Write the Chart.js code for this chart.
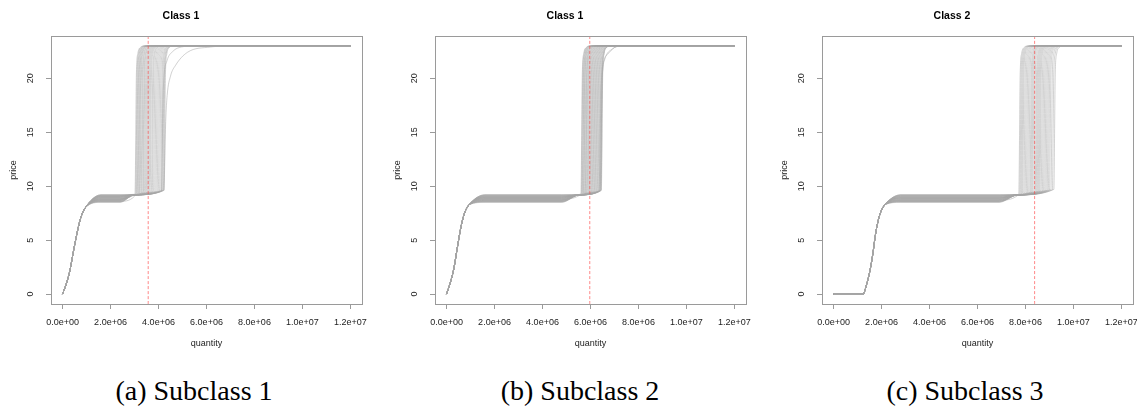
<!DOCTYPE html>
<html>
<head>
<meta charset="utf-8">
<script src="https://cdn.jsdelivr.net/npm/chart.js@4.4.0/dist/chart.umd.min.js"></script>
<style>
  body { margin: 0; background: #fff; width: 1137px; height: 409px; overflow: hidden; position: relative; }
  canvas { position: absolute; top: 0; }
  .caption { position: absolute; top: 377px; width: 300px; text-align: center;
             font-family: 'Liberation Serif', 'Times New Roman', serif; font-size: 28px; line-height: 28px; color: #000; }
</style>
</head>
<body>
<canvas id="c1" width="386" height="360" style="left:0px"></canvas>
<canvas id="c2" width="386" height="360" style="left:384px"></canvas>
<canvas id="c3" width="386" height="360" style="left:771px"></canvas>
<div class="caption" style="left:44px">(a) Subclass 1</div>
<div class="caption" style="left:430px">(b) Subclass 2</div>
<div class="caption" style="left:815px">(c) Subclass 3</div>

<script>
// axes, as printed
const xTicks = [0, 2e6, 4e6, 6e6, 8e6, 10e6, 12e6];
const xTickLabels = ['0.0e+00', '2.0e+06', '4.0e+06', '6.0e+06', '8.0e+06', '1.0e+07', '1.2e+07'];
const yTicks = [0, 5, 10, 15, 20];
const xMin = -0.48e6, xMax = 12.48e6, yMin = -0.92, yMax = 23.92;
const qEnd = 12e6, pTop = 23;

const titles = ['Class 1', 'Class 1', 'Class 2'];
const redQ = [3.57e6, 5.97e6, 8.38e6];   // red dashed line

// plateau / foot of the jump zone, per panel
const plateauStart = [1.6e6, 1.6e6, 2.8e6];
const plateauEnd = [2.4e6, 4.8e6, 6.9e6];
const footQ = [3.0e6, 5.55e6, 7.7e6];
const footP = [9.2, 9.2, 9.2];

// shape of the jump up to 23 (offset after the jump quantity)
const jumpDq = [0.06e6, 0.12e6, 0.22e6, 0.4e6];
const jumpP = [20.5, 22.3, 22.85, 23];

// panel (a)
const rise1Q = [0, 0.15e6, 0.3e6, 0.45e6, 0.6e6, 0.75e6, 0.95e6];
const rise1P = [0, 0.9, 2.1, 3.9, 5.6, 7.0, 8.0];
const jump1 = [3.02e6, 3.05e6, 3.08e6, 3.11e6, 3.14e6, 3.17e6, 3.2e6, 3.23e6, 3.27e6, 3.3e6, 3.34e6,
  3.37e6, 3.41e6, 3.45e6, 3.49e6, 3.53e6, 3.57e6, 3.61e6, 3.65e6, 3.7e6, 3.74e6, 3.79e6, 3.84e6,
  3.89e6, 3.94e6, 3.99e6, 4.04e6, 4.09e6, 4.13e6, 4.17e6, 4.2e6, 4.23e6];
const level1 = [9.2, 8.9, 8.6, 9.1, 8.8, 8.55, 9.0, 8.7, 9.15, 8.85, 8.6, 9.05, 8.75, 9.2, 8.65, 8.95,
  8.5, 9.1, 8.8, 9.0, 8.7, 8.9, 9.15, 8.6, 8.85, 9.05, 8.75, 8.95, 8.55, 9.1, 8.8, 8.65];
const base1 = [9.25, 9.3, 9.28, 9.32, 9.3, 9.35, 9.33, 9.36, 9.34, 9.38, 9.36, 9.4, 9.38, 9.42, 9.4, 9.44,
  9.42, 9.46, 9.44, 9.48, 9.46, 9.5, 9.48, 9.52, 9.5, 9.55, 9.53, 9.58, 9.56, 9.6, 9.65, 9.62];
const slow1Jump = [4.22e6, 4.12e6];
const slow1Level = [8.7, 9.0];
const slow1Base = [9.6, 9.55];
const slow1TailQ = [[4.3e6, 4.36e6, 4.5e6, 4.71e6, 5.2e6, 6.17e6, 7.0e6], [4.2e6, 4.35e6, 4.6e6, 4.95e6, 5.5e6]];
const slow1TailP = [[16, 18.4, 20.2, 21.2, 22.4, 22.9, 23], [19, 21.6, 22.5, 22.9, 23]];

// panel (b)
const rise2Q = [0, 0.15e6, 0.3e6, 0.45e6, 0.6e6, 0.75e6, 0.95e6];
const rise2P = [0, 1.0, 2.3, 4.3, 6.2, 7.5, 8.3];
const jump2 = [5.6e6, 5.62e6, 5.65e6, 5.67e6, 5.7e6, 5.72e6, 5.75e6, 5.78e6, 5.8e6, 5.83e6, 5.86e6,
  5.89e6, 5.92e6, 5.95e6, 5.98e6, 6.01e6, 6.04e6, 6.07e6, 6.1e6, 6.13e6, 6.16e6, 6.19e6, 6.22e6,
  6.25e6, 6.28e6, 6.31e6, 6.34e6, 6.37e6, 6.4e6, 6.42e6, 6.44e6, 6.45e6];
const level2 = [8.8, 9.1, 8.6, 9.0, 8.7, 9.2, 8.55, 8.9, 9.05, 8.65, 8.95, 8.75, 9.15, 8.6, 8.85, 9.1,
  8.5, 9.0, 8.8, 8.7, 9.2, 8.9, 8.6, 9.05, 8.75, 8.95, 8.65, 9.15, 8.85, 8.55, 9.0, 8.8];
const base2 = [9.25, 9.28, 9.3, 9.3, 9.33, 9.32, 9.35, 9.36, 9.35, 9.38, 9.4, 9.38, 9.42, 9.41, 9.44, 9.43,
  9.46, 9.45, 9.48, 9.47, 9.5, 9.49, 9.52, 9.51, 9.54, 9.53, 9.56, 9.55, 9.58, 9.57, 9.6, 9.62];
const slow2Jump = [6.35e6, 6.4e6];
const slow2Level = [8.9, 8.7];
const slow2Base = [9.55, 9.6];
const slow2TailQ = [[6.45e6, 6.6e6, 6.9e6, 7.3e6], [6.5e6, 6.7e6, 7.0e6, 7.3e6]];
const slow2TailP = [[19.5, 21.8, 22.7, 23], [20.5, 22.2, 22.85, 23]];

// panel (c)
const rise3Q = [0, 1.23e6, 1.38e6, 1.53e6, 1.65e6, 1.74e6, 1.85e6, 1.95e6, 2.15e6];
const rise3P = [0, 0, 0.9, 2.3, 3.9, 5.4, 6.7, 7.5, 8.3];
const jump3 = [7.72e6, 7.76e6, 7.8e6, 7.84e6, 7.88e6, 7.93e6, 7.98e6, 8.03e6, 8.08e6, 8.13e6, 8.18e6,
  8.22e6, 8.26e6, 8.3e6, 8.35e6, 8.4e6, 8.44e6, 8.48e6, 8.52e6, 8.56e6, 8.6e6, 8.65e6, 8.7e6,
  8.75e6, 8.8e6, 8.85e6, 8.9e6, 8.95e6, 9.0e6, 9.06e6, 9.12e6, 9.18e6];
const level3 = [9.0, 8.7, 9.15, 8.6, 8.9, 8.55, 9.2, 8.8, 8.65, 9.05, 8.75, 8.95, 8.5, 9.1, 8.85, 8.6,
  9.0, 8.7, 9.2, 8.8, 8.9, 8.55, 9.1, 8.65, 8.95, 8.75, 9.05, 8.6, 8.85, 9.15, 8.7, 8.9];
const base3 = [9.25, 9.3, 9.28, 9.33, 9.35, 9.32, 9.38, 9.36, 9.4, 9.42, 9.4, 9.45, 9.43, 9.48, 9.46, 9.5,
  9.48, 9.52, 9.5, 9.55, 9.53, 9.58, 9.56, 9.6, 9.58, 9.62, 9.6, 9.65, 9.63, 9.68, 9.66, 9.7];

const lineGrey = 'rgba(165,165,165,0.5)';
const axisGrey = '#9a9a9a';
const textCol = '#222';
const small = { family: "'Liberation Sans', Arial, sans-serif", size: 9 };

function curvePoints(k, riseQ, riseP, level, jump, base, tailQ, tailP) {
  const pts = riseQ.map((q, i) => ({ x: q, y: riseP[i] }));
  pts.push({ x: plateauStart[k], y: level }, { x: plateauEnd[k], y: level });
  if (jump > footQ[k] + 0.08e6) pts.push({ x: footQ[k], y: footP[k] });
  pts.push({ x: jump, y: base });
  tailQ.forEach((q, i) => pts.push({ x: q, y: tailP[i] }));
  if (tailQ[tailQ.length - 1] < qEnd) pts.push({ x: qEnd, y: pTop });
  return pts;
}

function panelDatasets(k, riseQ, riseP, jumps, levels, bases, sJump, sLevel, sBase, sTailQ, sTailP) {
  const ds = [{
    data: [{ x: redQ[k], y: yMin }, { x: redQ[k], y: yMax }],
    borderColor: 'rgba(255,70,70,0.65)', borderWidth: 1, borderDash: [3, 2]
  }];
  jumps.forEach((j, i) => {
    ds.push({
      data: curvePoints(k, riseQ, riseP, levels[i], j, bases[i], jumpDq.map(d => j + d), jumpP),
      borderColor: lineGrey
    });
  });
  sJump.forEach((j, i) => {
    ds.push({
      data: curvePoints(k, riseQ, riseP, sLevel[i], j, sBase[i], sTailQ[i], sTailP[i]),
      borderColor: lineGrey
    });
  });
  return ds;
}

const boxPlugin = {
  id: 'box',
  afterDatasetsDraw(chart) {
    const a = chart.chartArea, ctx = chart.ctx;
    ctx.save();
    ctx.strokeStyle = axisGrey;
    ctx.lineWidth = 1;
    const l = Math.round(a.left) + 0.5, t = Math.round(a.top) + 0.5;
    ctx.strokeRect(l, t, Math.round(a.right) - Math.round(a.left), Math.round(a.bottom) - Math.round(a.top));
    ctx.restore();
  }
};

function makeChart(id, k, datasets) {
  new Chart(document.getElementById(id), {
    type: 'line',
    data: { datasets },
    options: {
      responsive: false,
      animation: false,
      devicePixelRatio: 1,
      layout: { padding: { left: 0, right: 24, top: 0, bottom: 0 } },
      elements: {
        point: { radius: 0 },
        line: { cubicInterpolationMode: 'monotone', borderWidth: 1 }
      },
      plugins: {
        colors: { enabled: false },
        legend: { display: false },
        tooltip: { enabled: false },
        title: {
          display: true, text: titles[k], color: '#000',
          font: { family: "'Liberation Sans', Arial, sans-serif", size: 10.5, weight: 'bold' },
          padding: { top: 9.5, bottom: 13.9 }
        }
      },
      scales: {
        x: {
          type: 'linear', min: xMin, max: xMax,
          afterBuildTicks: s => { s.ticks = xTicks.map(v => ({ value: v })); },
          afterFit: s => { s.height = 56; },
          grid: { drawOnChartArea: false, drawTicks: true, tickLength: 5, tickColor: axisGrey },
          border: { display: false },
          ticks: { callback: (v, i) => xTickLabels[i], font: small, color: textCol, padding: 8,
                   maxRotation: 0, autoSkip: false },
          title: { display: true, text: 'quantity', font: small, color: textCol, padding: { top: 0, bottom: 10.6 } }
        },
        y: {
          type: 'linear', min: yMin, max: yMax,
          afterBuildTicks: s => { s.ticks = yTicks.map(v => ({ value: v })); },
          afterFit: s => { s.width = 51; },
          grid: { drawOnChartArea: false, drawTicks: true, tickLength: 5, tickColor: axisGrey },
          border: { display: false },
          ticks: { font: small, color: textCol, padding: 10, minRotation: 90, maxRotation: 90,
                   crossAlign: 'center', autoSkip: false },
          title: { display: true, text: 'price', font: small, color: textCol, padding: { top: 7.9, bottom: 0 } }
        }
      }
    },
    plugins: [boxPlugin]
  });
}

makeChart('c1', 0, panelDatasets(0, rise1Q, rise1P, jump1, level1, base1, slow1Jump, slow1Level, slow1Base, slow1TailQ, slow1TailP));
makeChart('c2', 1, panelDatasets(1, rise2Q, rise2P, jump2, level2, base2, slow2Jump, slow2Level, slow2Base, slow2TailQ, slow2TailP));
makeChart('c3', 2, panelDatasets(2, rise3Q, rise3P, jump3, level3, base3, [], [], [], [], []));
</script>
</body>
</html>
